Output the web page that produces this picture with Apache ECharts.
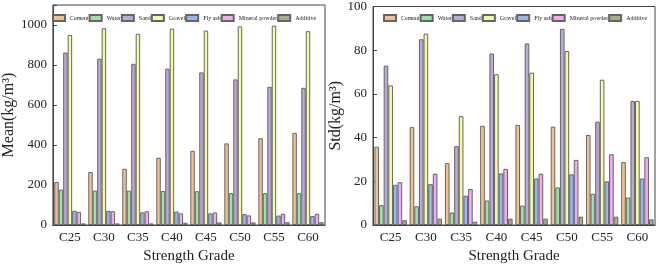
<!DOCTYPE html>
<html>
<head>
<meta charset="utf-8">
<script src="https://cdn.jsdelivr.net/npm/echarts@6/dist/echarts.min.js"></script>
<style>
  html, body { margin: 0; padding: 0; background: #fff; }
  #chart { width: 660px; height: 269px; }
</style>
</head>
<body>
<div id="chart"></div>
<script>
// Mean / Std of mix components per strength grade
const grades = ['C25', 'C30', 'C35', 'C40', 'C45', 'C50', 'C55', 'C60'];
const components = ['Cement', 'Water', 'Sand', 'Gravel', 'Fly ash', 'Mineral powder', 'Additive'];
const colors = ['#F4C08E', '#98E4A0', '#BBA9DA', '#F7FBA0', '#93B8F2', '#F6A9F4', '#A8AE86'];

const meanCement  = [215, 265, 281, 336, 371, 408, 434, 461];
const meanWater   = [177, 172, 172, 170, 169, 159, 159, 159];
const meanSand    = [862, 831, 806, 782, 763, 728, 691, 686];
const meanGravel  = [950, 984, 956, 982, 972, 993, 997, 969];
const meanFlyAsh  = [71, 71, 63, 67, 58, 55, 47, 45];
const meanMineral = [66, 69, 69, 58, 63, 48, 56, 56];
const meanAdd     = [8, 8, 8, 11, 13, 13, 14, 14];

const stdCement  = [35.8, 44.8, 28.3, 45.4, 45.8, 45.0, 41.2, 28.8];
const stdWater   = [9.1, 8.6, 5.7, 11.2, 8.9, 17.2, 14.3, 12.6];
const stdSand    = [72.9, 85.0, 36.1, 78.5, 83.1, 89.8, 47.3, 56.7];
const stdGravel  = [63.9, 87.6, 49.8, 69.0, 69.7, 79.6, 66.5, 56.8];
const stdFlyAsh  = [18.4, 18.7, 13.4, 23.6, 21.3, 23.2, 20.0, 21.3];
const stdMineral = [19.6, 23.5, 16.5, 25.7, 23.5, 29.8, 32.4, 31.0];
const stdAdd     = [2.2, 2.9, 1.5, 2.9, 2.9, 3.8, 3.8, 2.6];

const meanData = [meanCement, meanWater, meanSand, meanGravel, meanFlyAsh, meanMineral, meanAdd];
const stdData  = [stdCement, stdWater, stdSand, stdGravel, stdFlyAsh, stdMineral, stdAdd];

const FONT = '"Liberation Serif", "Times New Roman", serif';

const chart = echarts.init(document.getElementById('chart'), null, { renderer: 'canvas' });

function xAxis(gi) {
  return {
    type: 'category', gridIndex: gi, data: grades,
    name: 'Strength Grade', nameLocation: 'middle', nameGap: 24,
    nameTextStyle: { fontFamily: FONT, fontSize: 15, color: '#222' },
    axisLine: { lineStyle: { color: '#444', width: 1 } },
    axisTick: { show: false },
    axisLabel: { fontFamily: FONT, fontSize: 13, color: '#222', margin: 6 }
  };
}

function yAxis(gi, name, max, interval, gap) {
  return {
    type: 'value', gridIndex: gi, min: 0, max: max, interval: interval,
    name: name, nameLocation: 'middle', nameGap: gap,
    nameTextStyle: { fontFamily: FONT, fontSize: 16, color: '#222' },
    axisLine: { show: true, lineStyle: { color: '#444', width: 1 } },
    axisTick: { show: true, inside: true, length: 4, lineStyle: { color: '#444' } },
    axisLabel: {
      fontFamily: FONT, fontSize: 13, color: '#222', margin: 6,
      formatter: v => (v > 1000 ? '' : String(v))
    },
    splitLine: { show: false }
  };
}

function legend(left) {
  return {
    left: left, top: 14, width: 300, padding: 0, data: components,
    itemWidth: 12, itemHeight: 6, itemGap: 0,
    textStyle: { fontFamily: FONT, fontSize: 6, color: '#222' },
    icon: 'rect'
  };
}

const series = [];
components.forEach((c, i) => {
  series.push({
    name: c, type: 'bar', xAxisIndex: 0, yAxisIndex: 0,
    data: meanData[i], barGap: '0%', barCategoryGap: '8%',
    itemStyle: { color: colors[i], borderColor: '#666', borderWidth: 1 }
  });
  series.push({
    name: c, type: 'bar', xAxisIndex: 1, yAxisIndex: 1,
    data: stdData[i], barGap: '0%', barCategoryGap: '8%',
    itemStyle: { color: colors[i], borderColor: '#666', borderWidth: 1 }
  });
});

chart.setOption({
  backgroundColor: '#fff',
  animation: false,
  color: colors,
  legend: [legend(52), legend(383)],
  grid: [
    { left: 41, top: 5, width: 284, height: 229, show: true, borderColor: '#444', borderWidth: 1 },
    { left: 373, top: 5, width: 282, height: 229, show: true, borderColor: '#444', borderWidth: 1 }
  ],
  xAxis: [xAxis(0), xAxis(1)],
  yAxis: [yAxis(0, 'Mean(kg/m³)', 1100, 200, 30), yAxis(1, 'Std(kg/m³)', 100, 20, 24)],
  series: series
});
</script>
</body>
</html>
